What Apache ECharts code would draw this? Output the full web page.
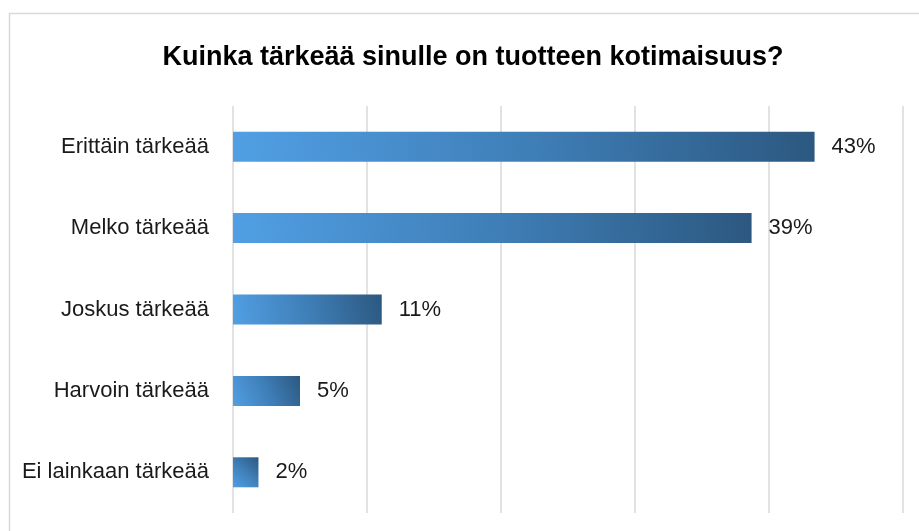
<!DOCTYPE html>
<html>
<head>
<meta charset="utf-8">
<script src="https://cdn.jsdelivr.net/npm/echarts@6/dist/echarts.min.js"></script>
<style>
html,body{margin:0;padding:0;background:#fff;}
#chart{width:919px;height:531px;}
</style>
</head>
<body>
<div id="chart"></div>
<script>
const titleText = 'Kuinka tärkeää sinulle on tuotteen kotimaisuus?';
const categories = ['Erittäin tärkeää', 'Melko tärkeää', 'Joskus tärkeää', 'Harvoin tärkeää', 'Ei lainkaan tärkeää'];
const values = [43.4, 38.7, 11.1, 5.0, 1.9];
const axisMin = 0, axisMax = 50, axisInterval = 10;

const chart = echarts.init(document.getElementById('chart'), null, {renderer: 'canvas'});
chart.setOption({
  backgroundColor: '#ffffff',
  animation: false,
  graphic: [{
    type: 'rect',
    shape: {x: 9.5, y: 13.5, width: 1000, height: 1000},
    style: {fill: 'none', stroke: '#d9d9d9', lineWidth: 1.5},
    silent: true
  }],
  title: {
    text: titleText,
    left: 468,
    top: 39,
    textAlign: 'center',
    textStyle: {fontFamily: 'Liberation Sans', fontWeight: 'bold', fontSize: 27, color: '#000'}
  },
  grid: {left: 233, right: 16, top: 106, bottom: 18, containLabel: false},
  xAxis: {
    type: 'value', min: axisMin, max: axisMax, interval: axisInterval,
    axisLabel: {show: false}, axisLine: {show: false}, axisTick: {show: false},
    splitLine: {show: true, lineStyle: {color: '#d9d9d9', width: 1.5}}
  },
  yAxis: {
    type: 'category', data: categories, inverse: true,
    axisLine: {show: false}, axisTick: {show: false},
    axisLabel: {margin: 24, fontFamily: 'Liberation Sans', fontSize: 22, color: '#1a1a1a'}
  },
  series: [{
    type: 'bar',
    data: values,
    barWidth: 30,
    itemStyle: {
      color: new echarts.graphic.LinearGradient(0, 1, 1, 0, [
        {offset: 0, color: '#519fe4'},
        {offset: 0.5, color: '#3f7fb8'},
        {offset: 1, color: '#2c5880'}
      ])
    },
    label: {
      show: true, position: 'right', distance: 17,
      fontFamily: 'Liberation Sans', fontSize: 22, color: '#1a1a1a',
      formatter: p => Math.round(p.value) + '%'
    }
  }]
});
</script>
</body>
</html>
